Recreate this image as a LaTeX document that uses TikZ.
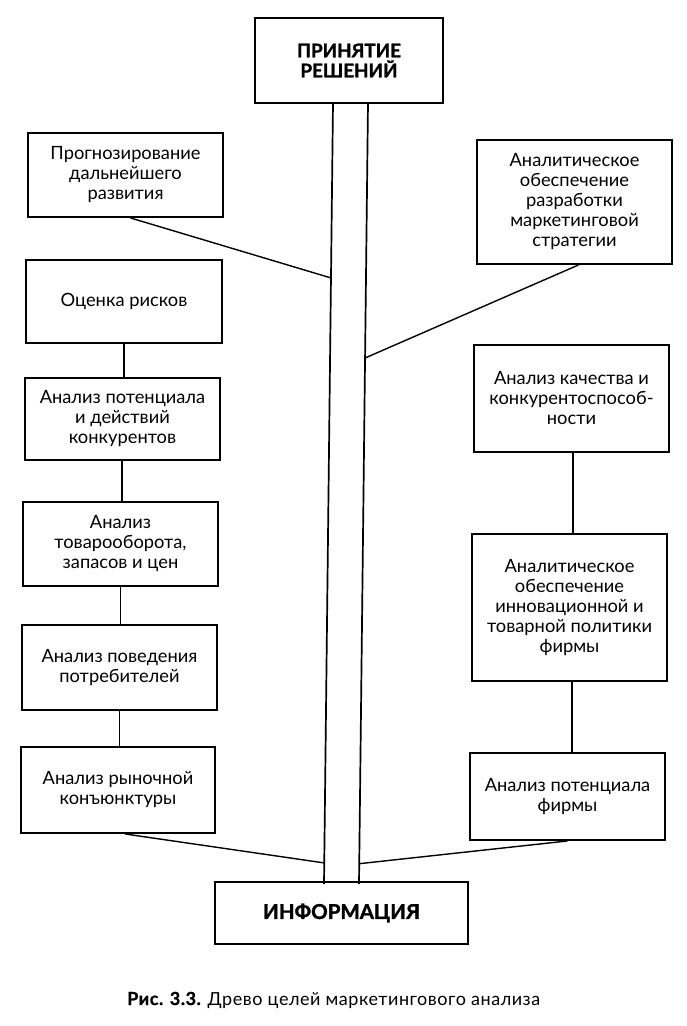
\documentclass[tikz,border=0pt]{standalone}
\usepackage{fontspec}
\setmainfont{Lato}
\usetikzlibrary{calc}
\tikzset{
  box/.style={draw, line width=1.9pt, rectangle, align=center, inner sep=0pt,
    font=\fontsize{18.3}{20}\selectfont},
  headbox/.style={draw, line width=1.9pt, rectangle, align=center, inner sep=0pt,
    font=\bfseries\addfontfeatures{FakeBold=1.5}\fontsize{18.8}{20}\selectfont},
  link/.style={line width=1.4pt},
  trunk/.style={line width=1.7pt}
}
\begin{document}
\begin{tikzpicture}[x=1pt,y=-1pt]
\useasboundingbox (0,0) rectangle (686,1026);
% top and bottom
\node[headbox, minimum width=188pt, minimum height=85pt] (top) at (349,60.5) {ПРИНЯТИЕ\\РЕШЕНИЙ};
\node[headbox, minimum width=253pt, minimum height=62pt, font=\bfseries\addfontfeatures{FakeBold=1.5}\fontsize{20.5}{22}\selectfont] (info) at (341.5,913) {ИНФОРМАЦИЯ};
% trunk
\coordinate (tl) at (333,103);
\coordinate (bl) at (324,884);
\coordinate (tr) at (368,103);
\coordinate (br) at (359,884);
\draw[trunk] (tl) -- (bl);
\draw[trunk] (tr) -- (br);
% left column
\node[box, minimum width=195pt, minimum height=84pt] (prog) at (125.5,175) {Прогнозирование\\дальнейшего\\развития};
\node[box, minimum width=196pt, minimum height=83pt] (risk) at (124,301.5) {Оценка рисков};
\node[box, minimum width=195pt, minimum height=82pt] (konk) at (122.5,419) {Анализ потенциала\\и действий\\конкурентов};
\node[box, minimum width=195pt, minimum height=84pt] (tov) at (120.5,544) {Анализ\\товарооборота,\\запасов и цен};
\node[box, minimum width=195pt, minimum height=85pt] (potr) at (119.5,667.5) {Анализ поведения\\потребителей};
\node[box, minimum width=194pt, minimum height=86pt] (kon) at (118,790) {Анализ рыночной\\конъюнктуры};
% right column
\node[box, minimum width=195pt, minimum height=124pt] (strat) at (574.5,202) {Аналитическое\\обеспечение\\разработки\\маркетинговой\\стратегии};
\node[box, minimum width=195pt, minimum height=107pt] (kach) at (571.5,398.5) {Анализ качества и\\конкурентоспособ-\\ности};
\node[box, minimum width=195pt, minimum height=147pt] (innov) at (569.5,607.5) {Аналитическое\\обеспечение\\инновационной и\\товарной политики\\фирмы};
\node[box, minimum width=195pt, minimum height=87pt] (firm) at (567.5,796.5) {Анализ потенциала\\фирмы};
% trunk attachment points
\coordinate (aprog) at ($(tl)!0.224!(bl)$);
\coordinate (astrat) at ($(tr)!0.3265!(br)$);
\coordinate (akon) at ($(tl)!0.973!(bl)$);
\coordinate (afirm) at ($(tr)!0.974!(br)$);
% connectors
\draw[link] ([xshift=5pt]prog.south) -- (aprog);
\draw[link] ([xshift=4pt]strat.south) -- (astrat);
\draw[link] (risk.south) -- (risk.south |- konk.north);
\draw[link] ([xshift=-0.5pt]konk.south) -- ([xshift=-0.5pt]konk.south |- tov.north);
\draw[link] (tov.south) -- (tov.south |- potr.north);
\draw[link] (potr.south) -- (potr.south |- kon.north);
\draw[link] ([xshift=7pt]kon.south) -- (akon);
\draw[link] ([xshift=1.5pt]kach.south) -- ([xshift=1.5pt]kach.south |- innov.north);
\draw[link] ([xshift=2.5pt]innov.south) -- ([xshift=2.5pt]innov.south |- firm.north);
\draw[link] (firm.south) -- (afirm);
% caption
\node[anchor=base west, inner sep=0pt, font=\addfontfeatures{LetterSpace=3}\fontsize{18}{20}\selectfont] (cap) at (127,1005) {{\bfseries\addfontfeatures{FakeBold=1}Рис. 3.3.} Древо целей маркетингового анализа};
\end{tikzpicture}
\end{document}
